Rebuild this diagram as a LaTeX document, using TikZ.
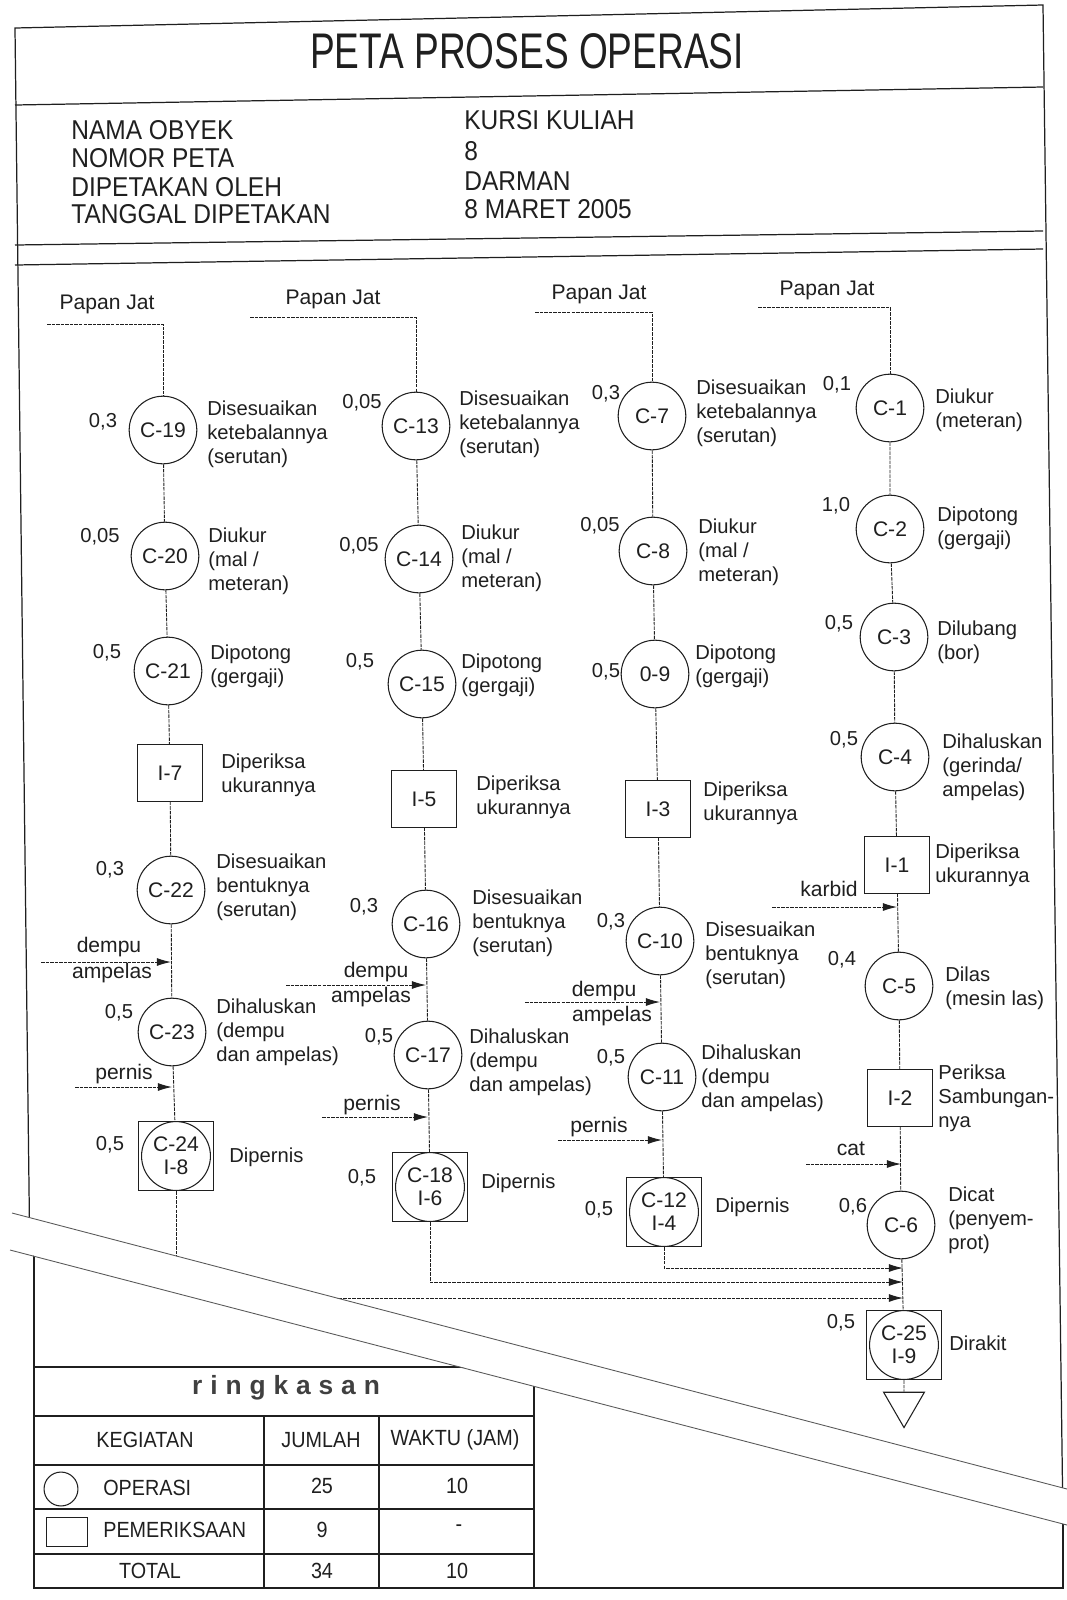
\documentclass[tikz,border=0pt]{standalone}
\usepackage{fontspec}
\setmainfont{Liberation Sans}
\newfontfamily\titlefont[FakeStretch=0.74]{Liberation Sans}
\newfontfamily\headfont[FakeStretch=0.9]{Liberation Sans}
\newfontfamily\spacedfont[LetterSpace=30]{Liberation Sans}
\usetikzlibrary{arrows.meta,shapes.geometric}
\definecolor{ink}{gray}{0.12}
\definecolor{foldgray}{gray}{0.35}

\tikzset{
  op/.style={circle,draw=ink,line width=0.6pt,minimum size=38.5pt,inner sep=0pt,text=ink,font=\fontsize{12}{12}\selectfont},
  insp/.style={rectangle,draw=ink,line width=0.6pt,minimum width=37.5pt,minimum height=32pt,inner sep=0pt,text=ink,font=\fontsize{12}{12}\selectfont},
  combo/.style={rectangle,draw=ink,line width=0.6pt,minimum width=42.5pt,minimum height=39.5pt,inner sep=0pt,align=center,text=ink,font=\fontsize{12}{13}\selectfont,
    path picture={\draw[ink,line width=0.6pt] (path picture bounding box.center) circle[radius=19.6pt];}},
  desc/.style={anchor=west,align=left,inner sep=0pt,text=ink,font=\fontsize{11.5}{13.6}\selectfont},
  tlabel/.style={inner sep=0pt,text=ink,font=\fontsize{11.5}{12}\selectfont},
  plabel/.style={inner sep=0pt,text=ink,font=\fontsize{12}{12}\selectfont},
  flow/.style={draw=ink,line width=0.5pt,dash pattern=on 2pt off 0.6pt},
  feed/.style={flow,-{Latex[length=8pt,width=4.5pt]}},
  frame/.style={draw=ink,line width=0.7pt},
  head/.style={anchor=west,inner sep=0pt,text=ink,font=\headfont\fontsize{15.5}{16}\selectfont},
  cell/.style={inner sep=0pt,text=ink,font=\headfont\fontsize{12.5}{13}\selectfont},
  fold/.style={draw=foldgray,line width=0.5pt}
}

\begin{document}
\begin{tikzpicture}[x=0.02cm,y=-0.02cm]
\path[use as bounding box] (0,0) rectangle (1067,1600);

\begin{scope}
\clip (0,0) -- (1067,0) -- (1067,1489) -- (0,1210) -- cycle;
\draw[frame] (15,28) -- (1043,5) -- (1064,1600) -- (34,1600) -- cycle;
\draw[frame] (15,105) -- (1043,87);
\draw[frame] (15,245) -- (1043,231);
\draw[frame] (15,265) -- (1043,249);

\node[inner sep=0pt,text=ink,font=\titlefont\fontsize{28.5}{30}\selectfont] (title) at (527,51) {PETA PROSES OPERASI};
\node[head] (hk1) at (71,130) {NAMA OBYEK};
\node[head] (hk2) at (71,158) {NOMOR PETA};
\node[head] (hk3) at (71,187) {DIPETAKAN OLEH};
\node[head] (hk4) at (71,214) {TANGGAL DIPETAKAN};
\node[head] (hv1) at (464,120) {KURSI KULIAH};
\node[head] (hv2) at (464,151) {8};
\node[head] (hv3) at (464,181) {DARMAN};
\node[head] (hv4) at (464,209) {8 MARET 2005};

\node[plabel] (pj1) at (107,304) {Papan Jat};
\node[plabel] (pj2) at (333,299) {Papan Jat};
\node[plabel] (pj3) at (599,294) {Papan Jat};
\node[plabel] (pj4) at (827,290) {Papan Jat};
\coordinate (fd1) at (47,324);
\coordinate (fd2) at (250,317);
\coordinate (fd3) at (535,312);
\coordinate (fd4) at (758,307);

\node[op] (c19) at (163,430) {C-19};
\node[op] (c20) at (165,556) {C-20};
\node[op] (c21) at (168,671) {C-21};
\node[insp] (i7) at (170,773) {I-7};
\node[op] (c22) at (171,890) {C-22};
\node[op] (c23) at (172,1032) {C-23};
\node[combo] (c24) at (176,1156) {C-24\\I-8};
\node[tlabel] (t19) at (103,422) {0,3};
\node[tlabel] (t20) at (100,537) {0,05};
\node[tlabel] (t21) at (107,653) {0,5};
\node[tlabel] (t22) at (110,870) {0,3};
\node[tlabel] (t23) at (119,1013) {0,5};
\node[tlabel] (t24) at (110,1145) {0,5};
\node[desc] (d19) at (207,434) {Disesuaikan\\ketebalannya\\(serutan)};
\node[desc] (d20) at (208,561) {Diukur\\(mal /\\meteran)};
\node[desc] (d21) at (210,666) {Dipotong\\(gergaji)};
\node[desc] (di7) at (221,775) {Diperiksa\\ukurannya};
\node[desc] (d22) at (216,887) {Disesuaikan\\bentuknya\\(serutan)};
\node[desc] (d23) at (216,1032) {Dihaluskan\\(dempu\\dan ampelas)};
\node[desc] (d24) at (229,1157) {Dipernis};

\node[op] (c13) at (416,426) {C-13};
\node[op] (c14) at (419,559) {C-14};
\node[op] (c15) at (422,684) {C-15};
\node[insp] (i5) at (424,799) {I-5};
\node[op] (c16) at (426,924) {C-16};
\node[op] (c17) at (428,1055) {C-17};
\node[combo] (c18) at (430,1187) {C-18\\I-6};
\node[tlabel] (t13) at (362,403) {0,05};
\node[tlabel] (t14) at (359,546) {0,05};
\node[tlabel] (t15) at (360,662) {0,5};
\node[tlabel] (t16) at (364,907) {0,3};
\node[tlabel] (t17) at (379,1037) {0,5};
\node[tlabel] (t18) at (362,1178) {0,5};
\node[desc] (d13) at (459,424) {Disesuaikan\\ketebalannya\\(serutan)};
\node[desc] (d14) at (461,558) {Diukur\\(mal /\\meteran)};
\node[desc] (d15) at (461,675) {Dipotong\\(gergaji)};
\node[desc] (di5) at (476,797) {Diperiksa\\ukurannya};
\node[desc] (d16) at (472,923) {Disesuaikan\\bentuknya\\(serutan)};
\node[desc] (d17) at (469,1062) {Dihaluskan\\(dempu\\dan ampelas)};
\node[desc] (d18) at (481,1183) {Dipernis};

\node[op] (c7) at (652,416) {C-7};
\node[op] (c8) at (653,551) {C-8};
\node[op] (c9) at (655,674) {0-9};
\node[insp] (i3) at (658,809) {I-3};
\node[op] (c10) at (660,941) {C-10};
\node[op] (c11) at (662,1077) {C-11};
\node[combo] (c12) at (664,1212) {C-12\\I-4};
\node[tlabel] (t7) at (606,394) {0,3};
\node[tlabel] (t8) at (600,526) {0,05};
\node[tlabel] (t9) at (606,672) {0,5};
\node[tlabel] (t10) at (611,922) {0,3};
\node[tlabel] (t11) at (611,1058) {0,5};
\node[tlabel] (t12) at (599,1210) {0,5};
\node[desc] (d7) at (696,413) {Disesuaikan\\ketebalannya\\(serutan)};
\node[desc] (d8) at (698,552) {Diukur\\(mal /\\meteran)};
\node[desc] (d9) at (695,666) {Dipotong\\(gergaji)};
\node[desc] (di3) at (703,803) {Diperiksa\\ukurannya};
\node[desc] (d10) at (705,955) {Disesuaikan\\bentuknya\\(serutan)};
\node[desc] (d11) at (701,1078) {Dihaluskan\\(dempu\\dan ampelas)};
\node[desc] (d12) at (715,1207) {Dipernis};

\node[op] (c1) at (890,408) {C-1};
\node[op] (c2) at (890,529) {C-2};
\node[op] (c3) at (894,637) {C-3};
\node[op] (c4) at (895,757) {C-4};
\node[insp] (i1) at (897,865) {I-1};
\node[op] (c5) at (899,986) {C-5};
\node[insp] (i2) at (900,1098) {I-2};
\node[op] (c6) at (901,1225) {C-6};
\node[combo] (c25) at (904,1345) {C-25\\I-9};
\node[regular polygon,regular polygon sides=3,shape border rotate=180,draw=ink,line width=0.6pt,minimum size=26.8pt,inner sep=0pt] (sto) at (904,1404) {};
\node[tlabel] (t1) at (837,385) {0,1};
\node[tlabel] (t2) at (836,506) {1,0};
\node[tlabel] (t3) at (839,624) {0,5};
\node[tlabel] (t4) at (844,740) {0,5};
\node[tlabel] (t5) at (842,960) {0,4};
\node[tlabel] (t6) at (853,1207) {0,6};
\node[tlabel] (t25) at (841,1323) {0,5};
\node[desc] (d1) at (935,410) {Diukur\\(meteran)};
\node[desc] (d2) at (937,528) {Dipotong\\(gergaji)};
\node[desc] (d3) at (937,642) {Dilubang\\(bor)};
\node[desc] (d4) at (942,767) {Dihaluskan\\(gerinda/\\ampelas)};
\node[desc] (di1) at (935,865) {Diperiksa\\ukurannya};
\node[desc] (d5) at (945,988) {Dilas\\(mesin las)};
\node[desc] (di2) at (938,1098) {Periksa\\Sambungan-\\nya};
\node[desc] (d6) at (948,1220) {Dicat\\(penyem-\\prot)};
\node[desc] (d25) at (949,1343) {Dirakit};

\draw[flow] (fd1) -| (c19);
\draw[flow] (c19) -- (c20) -- (c21) -- (i7) -- (c22) -- (c23) -- (c24);
\draw[flow] (fd2) -| (c13);
\draw[flow] (c13) -- (c14) -- (c15) -- (i5) -- (c16) -- (c17) -- (c18);
\draw[flow] (fd3) -| (c7);
\draw[flow] (c7) -- (c8) -- (c9) -- (i3) -- (c10) -- (c11) -- (c12);
\draw[flow] (fd4) -| (c1);
\draw[flow] (c1) -- (c2) -- (c3) -- (c4) -- (i1) -- (c5) -- (i2) -- (c6) -- (c25) -- (sto);

\coordinate (dp1) at (41,962);
\coordinate (pn1) at (75,1087);
\coordinate (dp2) at (286,985);
\coordinate (pn2) at (322,1117);
\coordinate (dp3) at (525,1002);
\coordinate (pn3) at (558,1140);
\coordinate (kb) at (772,907);
\coordinate (ct) at (806,1164);
\draw[feed] (dp1) -- (dp1 -| c22);
\draw[feed] (pn1) -- (pn1 -| c23);
\draw[feed] (dp2) -- (dp2 -| c16);
\draw[feed] (pn2) -- (pn2 -| c17);
\draw[feed] (dp3) -- (dp3 -| c10);
\draw[feed] (pn3) -- (pn3 -| c11);
\draw[feed] (kb) -- (kb -| i1);
\draw[feed] (ct) -- (ct -| c6);
\node[plabel] (ldp1) at (109,947) {dempu};
\node[plabel] (lam1) at (112,973) {ampelas};
\node[plabel] (lpn1) at (124,1074) {pernis};
\node[plabel] (ldp2) at (376,972) {dempu};
\node[plabel] (lam2) at (371,997) {ampelas};
\node[plabel] (lpn2) at (372,1105) {pernis};
\node[plabel] (ldp3) at (604,991) {dempu};
\node[plabel] (lam3) at (612,1016) {ampelas};
\node[plabel] (lpn3) at (599,1127) {pernis};
\node[plabel] (lkb) at (829,889) {karbid};
\node[plabel] (lct) at (851,1149) {cat};

\coordinate (mg3) at (903,1268);
\coordinate (mg2) at (903,1282);
\coordinate (mg1) at (903,1298);
\draw[feed] (c12) |- (mg3);
\draw[feed] (c18) |- (mg2);
\draw[feed] (c24) |- (mg1);
\end{scope}

\begin{scope}
\clip (0,1247) -- (1067,1525) -- (1067,1600) -- (0,1600) -- cycle;
\draw[frame] (34,1200) -- (34,1588) -- (1063,1588) -- (1063,1400);
\draw[frame] (34,1367) -- (534,1367) -- (534,1588);
\draw[frame] (34,1416) -- (534,1416);
\draw[frame] (34,1465) -- (534,1465);
\draw[frame] (34,1509) -- (534,1509);
\draw[frame] (34,1554) -- (534,1554);
\draw[frame] (264,1416) -- (264,1588);
\draw[frame] (379,1416) -- (379,1588);
\node[inner sep=0pt,text=black!75,font=\spacedfont\bfseries\fontsize{15}{16}\selectfont] (rk) at (286,1388) {ringkasan};
\node[cell] (hkg) at (145,1440) {KEGIATAN};
\node[cell] (hjm) at (321,1440) {JUMLAH};
\node[cell] (hwk) at (455,1440) {WAKTU (JAM)};
\node[circle,draw=ink,line width=0.6pt,minimum size=19.3pt,inner sep=0pt] (lgo) at (61,1489) {};
\node[cell,anchor=west] (kop) at (103,1488) {OPERASI};
\node[cell] (jop) at (322,1486) {25};
\node[cell] (wop) at (457,1486) {10};
\node[rectangle,draw=ink,line width=0.6pt,minimum width=23.2pt,minimum height=17pt,inner sep=0pt] (lgp) at (67,1532) {};
\node[cell,anchor=west] (kpm) at (103,1530) {PEMERIKSAAN};
\node[cell] (jpm) at (322,1530) {9};
\node[cell] (wpm) at (459,1528) {-};
\node[cell] (ktt) at (150,1571) {TOTAL};
\node[cell] (jtt) at (322,1571) {34};
\node[cell] (wtt) at (457,1571) {10};
\end{scope}

\draw[fold] (12,1213) -- (1067,1489);
\draw[fold] (10,1250) -- (1067,1525);
\end{tikzpicture}
\end{document}
